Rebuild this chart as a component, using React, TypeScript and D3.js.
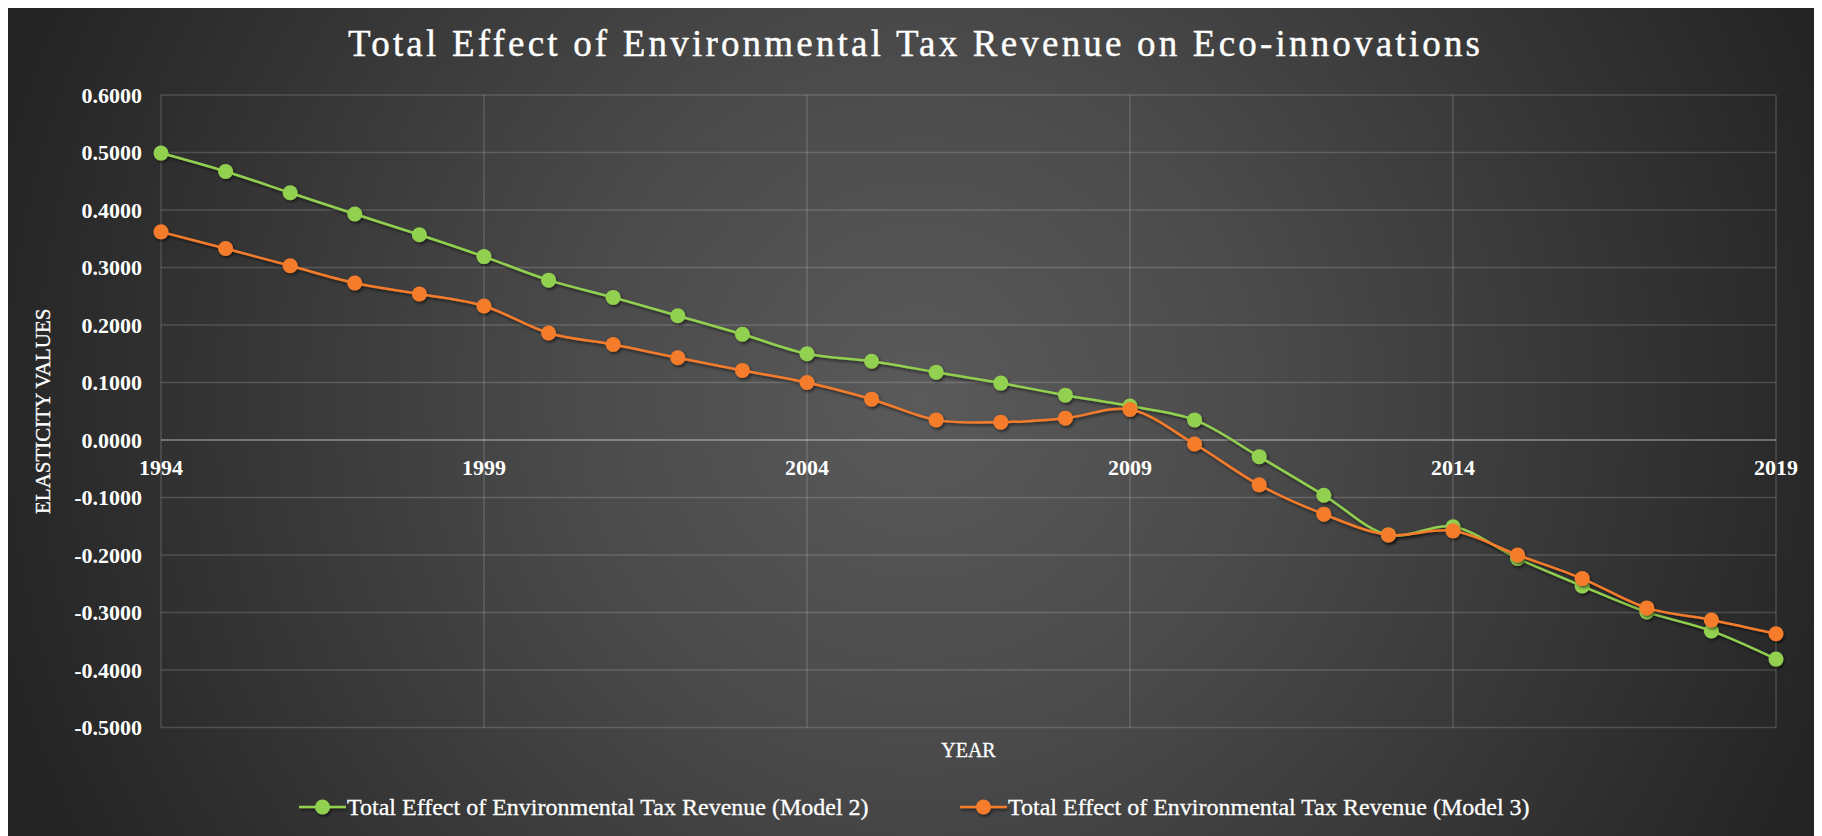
import React from "react";
import * as d3 from "d3";

const years: number[] = [1994,1995,1996,1997,1998,1999,2000,2001,2002,2003,2004,2005,2006,2007,2008,2009,2010,2011,2012,2013,2014,2015,2016,2017,2018,2019];
const model2: number[] = [0.499,0.467,0.430,0.393,0.357,0.319,0.278,0.248,0.216,0.184,0.150,0.137,0.118,0.099,0.078,0.059,0.035,-0.029,-0.096,-0.165,-0.151,-0.206,-0.254,-0.299,-0.332,-0.381];
const model3: number[] = [0.362,0.333,0.303,0.273,0.254,0.233,0.186,0.166,0.143,0.121,0.100,0.071,0.035,0.031,0.038,0.053,-0.007,-0.078,-0.129,-0.165,-0.158,-0.200,-0.241,-0.292,-0.313,-0.337];
const yTicks: number[] = [0.6,0.5,0.4,0.3,0.2,0.1,0,-0.1,-0.2,-0.3,-0.4,-0.5];
const xTicks: number[] = [1994,1999,2004,2009,2014,2019];
const seriesNames: string[] = [
  "Total Effect of Environmental Tax Revenue (Model 2)",
  "Total Effect of Environmental Tax Revenue (Model 3)",
];
const title = "Total Effect of Environmental Tax Revenue on Eco-innovations";

const W = 1822;
const H = 836;
const GREEN = "#92D050";
const ORANGE = "#F47C2C";
const GRID = "rgba(255,255,255,0.16)";
const FONT = "'Liberation Serif', 'DejaVu Serif', serif";

export default function App() {
  const x = d3.scaleLinear().domain([1994, 2019]).range([161, 1776]);
  const y = d3.scaleLinear().domain([-0.5, 0.6]).range([727.5, 95]);
  const line = d3
    .line<number>()
    .x((_, i) => x(years[i]))
    .y((d) => y(d))
    .curve(d3.curveCatmullRom.alpha(0.5));

  const series = [
    { name: seriesNames[0], values: model2, color: GREEN },
    { name: seriesNames[1], values: model3, color: ORANGE },
  ];
  const legendX = [299, 960];

  return (
    <svg width={W - 8} height={H - 8} style={{ display: "block" }}>
      <defs>
        <radialGradient id="bg" gradientUnits="userSpaceOnUse" cx={920} cy={400} r={960}>
          <stop offset="0" stopColor="#5a5a5a" />
          <stop offset="0.35" stopColor="#4b4b4b" />
          <stop offset="1" stopColor="#242424" />
        </radialGradient>
        <filter id="shadow" x="-10%" y="-10%" width="120%" height="130%">
          <feDropShadow dx="1.5" dy="2" stdDeviation="1.8" floodColor="#000" floodOpacity="0.55" />
        </filter>
      </defs>
      <g transform="translate(-8,-8)">
        <rect x={8} y={8} width={W - 8} height={H - 8} fill="url(#bg)" />
        <text
          x={914}
          y={56}
          textAnchor="middle"
          fill="#ffffff"
          fontFamily={FONT}
          fontSize={37}
          textLength={1132}
          lengthAdjust="spacing"
          stroke="#ffffff"
          strokeWidth={0.4}
        >
          {title}
        </text>
        {/* gridlines */}
        {yTicks.map((t) => (
          <line key={"gy" + t} x1={x(1994)} x2={x(2019)} y1={y(t)} y2={y(t)} stroke={GRID} strokeWidth={1.5} />
        ))}
        {xTicks.map((t) => (
          <line key={"gx" + t} x1={x(t)} x2={x(t)} y1={y(0.6)} y2={y(-0.5)} stroke={GRID} strokeWidth={1.5} />
        ))}
        <line x1={x(1994)} x2={x(2019)} y1={y(0)} y2={y(0)} stroke="rgba(255,255,255,0.3)" strokeWidth={1.5} />
        {/* y tick labels */}
        {yTicks.map((t) => (
          <text
            key={"ly" + t}
            x={142}
            y={y(t)}
            dy="0.35em"
            textAnchor="end"
            fill="#ffffff"
            fontFamily={FONT}
            fontWeight="bold"
            fontSize={22}
          >
            {t.toFixed(4)}
          </text>
        ))}
        {/* x tick labels */}
        {xTicks.map((t) => (
          <text
            key={"lx" + t}
            x={x(t)}
            y={467}
            dy="0.35em"
            textAnchor="middle"
            fill="#ffffff"
            fontFamily={FONT}
            fontWeight="bold"
            fontSize={22}
          >
            {t}
          </text>
        ))}
        {/* axis titles */}
        <text
          transform={`translate(50,${(y(0.6) + y(-0.5)) / 2}) rotate(-90)`}
          textAnchor="middle"
          fill="#ffffff"
          fontFamily={FONT}
          fontSize={21}
          stroke="#ffffff"
          strokeWidth={0.3}
        >
          ELASTICITY VALUES
        </text>
        <text
          x={(x(1994) + x(2019)) / 2}
          y={757}
          textAnchor="middle"
          fill="#ffffff"
          fontFamily={FONT}
          fontSize={20}
          stroke="#ffffff"
          strokeWidth={0.3}
        >
          YEAR
        </text>
        {/* series */}
        {series.map((s) => (
          <g key={s.name} filter="url(#shadow)">
            <path d={line(s.values) || ""} fill="none" stroke={s.color} strokeWidth={2.5} />
            {s.values.map((v, i) => (
              <circle key={i} cx={x(years[i])} cy={y(v)} r={7.5} fill={s.color} />
            ))}
          </g>
        ))}
        {/* legend */}
        {series.map((s, i) => (
          <g key={"lg" + i}>
            <g filter="url(#shadow)">
              <line x1={legendX[i]} x2={legendX[i] + 47} y1={807} y2={807} stroke={s.color} strokeWidth={2.5} />
              <circle cx={legendX[i] + 23.5} cy={807} r={7.5} fill={s.color} />
            </g>
            <text
              x={legendX[i] + 48}
              y={815}
              fill="#ffffff"
              fontFamily={FONT}
              fontSize={24}
              stroke="#ffffff"
              strokeWidth={0.3}
            >
              {s.name}
            </text>
          </g>
        ))}
      </g>
    </svg>
  );
}
